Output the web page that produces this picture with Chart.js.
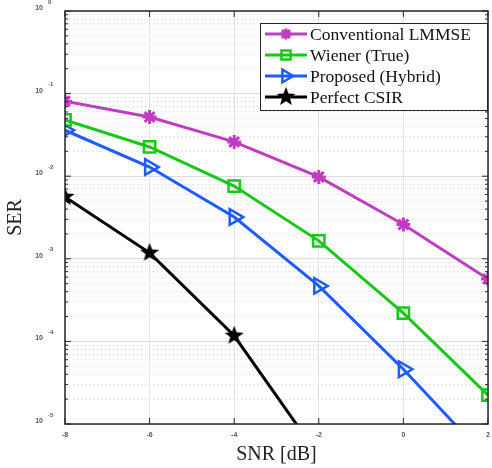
<!DOCTYPE html>
<html>
<head>
<meta charset="utf-8">
<script src="https://cdn.jsdelivr.net/npm/chart.js@4.4.0/dist/chart.umd.min.js"></script>
<style>
  html, body { margin: 0; padding: 0; background: #fff; }
  #wrap { width: 492px; height: 468px; }
</style>
</head>
<body>
<div id="wrap"><canvas id="serChart" width="492" height="468"></canvas></div>
<script>
// SNR points (dB)
const snr = [-8, -6, -4, -2, 0, 2];
// SER per scheme
const lmmse = [0.081, 0.052, 0.026, 0.0098, 0.0026, 0.00057];
const wiener = [0.048, 0.0226, 0.0076, 0.00165, 0.00022, 0.0000224];
const hybrid = [0.036, 0.0129, 0.0032, 0.00047, 0.000046, 0.0000037];
const perfect = [0.0056, 0.00118, 0.000117, 0.0000041, null, null];
const seriesNames = ['Conventional LMMSE', 'Wiener (True)', 'Proposed (Hybrid)', 'Perfect CSIR'];
const xTicks = [-8, -6, -4, -2, 0, 2];
const yDecades = [-5, -4, -3, -2, -1, 0];

const serifFont = '"Liberation Serif", "DejaVu Serif", serif';
const tickFont = '"Liberation Sans", Arial, sans-serif';

function isDecade(v) {
    const l = Math.log10(v);
    return Math.abs(l - Math.round(l)) < 1e-9;
}

// filled five-point star used as a marker
function makeStar(r) {
    const c = document.createElement('canvas');
    c.width = c.height = 2 * r + 2;
    const g = c.getContext('2d');
    g.beginPath();
    for (let i = 0; i < 10; i++) {
        const a = -Math.PI / 2 + i * Math.PI / 5;
        const rr = i % 2 ? r * 0.42 : r;
        g.lineTo(r + 1 + rr * Math.cos(a), r + 1 + rr * Math.sin(a));
    }
    g.closePath();
    g.fillStyle = '#000';
    g.fill();
    return c;
}
const starImg = makeStar(10);

const toPts = arr => snr.map((x, i) => ({ x: x, y: arr[i] }));

// frame, inward ticks, tick labels, axis titles and legend box
const decorPlugin = {
    id: 'decor',
    afterDraw(chart) {
        const ctx = chart.ctx;
        const a = chart.chartArea;
        const xs = chart.scales.x, ys = chart.scales.y;
        ctx.save();
        ctx.strokeStyle = '#262626';
        ctx.lineWidth = 1.5;
        ctx.strokeRect(a.left, a.top, a.right - a.left, a.bottom - a.top);

        ctx.lineWidth = 1;
        ctx.beginPath();
        ys.ticks.forEach(t => {
            const y = ys.getPixelForValue(t.value);
            const len = isDecade(t.value) ? 6 : 3;
            ctx.moveTo(a.left, y); ctx.lineTo(a.left + len, y);
            ctx.moveTo(a.right, y); ctx.lineTo(a.right - len, y);
        });
        xTicks.forEach(v => {
            const x = xs.getPixelForValue(v);
            ctx.moveTo(x, a.bottom); ctx.lineTo(x, a.bottom - 6);
            ctx.moveTo(x, a.top); ctx.lineTo(x, a.top + 6);
        });
        ctx.stroke();

        // x tick labels
        ctx.fillStyle = '#555';
        ctx.font = 'bold 7px ' + tickFont;
        ctx.textAlign = 'center';
        ctx.textBaseline = 'middle';
        xTicks.forEach(v => {
            ctx.fillText(String(v), xs.getPixelForValue(v), a.bottom + 11);
        });

        // y tick labels 10^n
        yDecades.forEach(e => {
            const y = ys.getPixelForValue(Math.pow(10, e));
            ctx.font = 'bold 7px ' + tickFont;
            ctx.textAlign = 'right';
            ctx.textBaseline = 'middle';
            ctx.fillText('10', 43, y - 3);
            ctx.font = 'bold 6px ' + tickFont;
            ctx.textAlign = 'left';
            ctx.fillText(e === 0 ? '0' : String(e), 48, y - 9);
        });

        // axis titles
        ctx.fillStyle = '#222';
        ctx.font = '20px ' + serifFont;
        ctx.textAlign = 'center';
        ctx.textBaseline = 'middle';
        ctx.fillText('SNR [dB]', (a.left + a.right) / 2, 455);
        ctx.save();
        ctx.translate(16, (a.top + a.bottom) / 2);
        ctx.rotate(-Math.PI / 2);
        ctx.fillText('SER', 0, 0);
        ctx.restore();

        // legend
        const lx = 260, ly = 23, lw = 227, lh = 87;
        ctx.fillStyle = '#fff';
        ctx.fillRect(lx, ly, lw, lh);
        ctx.strokeStyle = '#262626';
        ctx.lineWidth = 1;
        ctx.strokeRect(lx + 0.5, ly + 0.5, lw, lh);
        chart.data.datasets.forEach((ds, i) => {
            const y = ly + 11 + i * 21;
            ctx.strokeStyle = ds.borderColor;
            ctx.lineWidth = ds.borderWidth;
            ctx.beginPath();
            ctx.moveTo(lx + 5, y);
            ctx.lineTo(lx + 47, y);
            ctx.stroke();
            ctx.fillStyle = ds.backgroundColor;
            ctx.strokeStyle = ds.pointBorderColor || ds.borderColor;
            ctx.lineWidth = ds.pointBorderWidth;
            Chart.helpers.drawPoint(ctx, {
                pointStyle: ds.pointStyle,
                rotation: ds.pointRotation || 0,
                radius: ds.pointRadius * 0.8,
                borderWidth: ds.pointBorderWidth
            }, lx + 26, y);
            ctx.fillStyle = '#111';
            ctx.font = '17.5px ' + serifFont;
            ctx.textAlign = 'left';
            ctx.textBaseline = 'middle';
            ctx.fillText(seriesNames[i], lx + 50, y + 1);
        });
        ctx.restore();
    }
};

new Chart(document.getElementById('serChart').getContext('2d'), {
    type: 'line',
    data: {
        datasets: [{
            label: seriesNames[0],
            data: toPts(lmmse),
            borderColor: '#bf3ebf',
            backgroundColor: '#bf3ebf',
            borderWidth: 3,
            pointStyle: 'star',
            pointRadius: 7,
            pointBorderWidth: 3,
            pointBorderColor: '#bf3ebf'
        }, {
            label: seriesNames[1],
            data: toPts(wiener),
            borderColor: '#19c719',
            backgroundColor: 'rgba(0,0,0,0)',
            borderWidth: 3,
            pointStyle: 'rect',
            pointRadius: 8,
            pointBorderWidth: 2.5,
            pointBorderColor: '#19c719'
        }, {
            label: seriesNames[2],
            data: toPts(hybrid),
            borderColor: '#1f5cff',
            backgroundColor: 'rgba(0,0,0,0)',
            borderWidth: 3,
            pointStyle: 'triangle',
            pointRotation: 90,
            pointRadius: 9,
            pointBorderWidth: 2.5,
            pointBorderColor: '#1f5cff'
        }, {
            label: seriesNames[3],
            data: toPts(perfect),
            borderColor: '#000',
            backgroundColor: '#000',
            borderWidth: 3,
            pointStyle: starImg,
            pointRadius: 10,
            pointBorderWidth: 1
        }]
    },
    options: {
        responsive: false,
        animation: false,
        layout: { autoPadding: false, padding: { top: 11, right: 4, left: 0, bottom: 0 } },
        plugins: {
            legend: { display: false },
            tooltip: { enabled: false }
        },
        scales: {
            x: {
                type: 'linear',
                min: -8,
                max: 2,
                afterBuildTicks: s => { s.ticks = xTicks.map(v => ({ value: v })); },
                afterFit: s => { s.height = 44; },
                grid: { color: '#e3e3e3', lineWidth: 1, drawTicks: false },
                border: { display: false },
                ticks: { display: false, padding: 0 }
            },
            y: {
                type: 'logarithmic',
                min: 1e-5,
                max: 1,
                afterBuildTicks: s => {
                    const t = [];
                    for (let e = -5; e < 0; e++) {
                        for (let k = 1; k <= 9; k++) t.push({ value: k * Math.pow(10, e) });
                    }
                    t.push({ value: 1 });
                    s.ticks = t;
                },
                afterFit: s => { s.width = 65; },
                grid: {
                    drawTicks: false,
                    color: c => (c.tick && isDecade(c.tick.value)) ? '#dcdcdc' : '#dadada',
                    lineWidth: 1
                },
                border: {
                    display: false,
                    dash: c => (c.tick && !isDecade(c.tick.value)) ? [1, 3] : []
                },
                ticks: { display: false, autoSkip: false, padding: 0 }
            }
        }
    },
    plugins: [decorPlugin]
});
</script>
</body>
</html>
